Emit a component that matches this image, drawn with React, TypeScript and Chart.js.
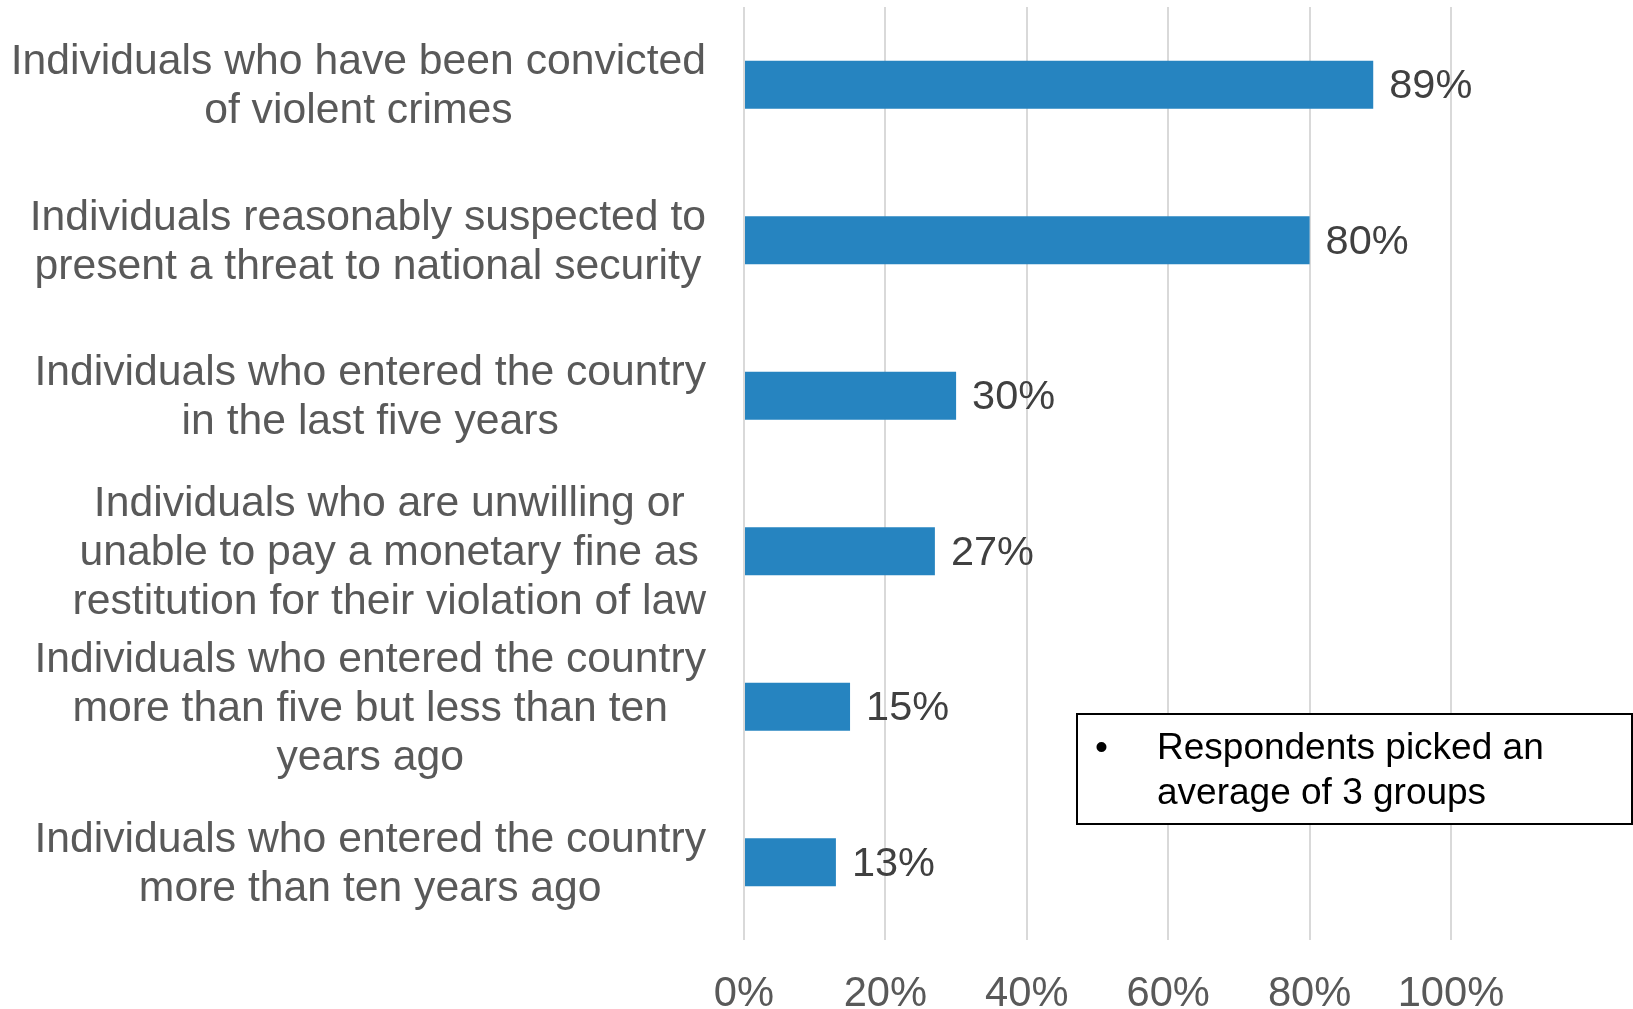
import React, { useEffect, useRef } from "react";
import { Chart, registerables } from "chart.js";

Chart.register(...registerables);

const categories: string[][] = [
  ["Individuals who have been convicted", "of violent crimes"],
  ["Individuals reasonably suspected to", "present a threat to national security"],
  ["Individuals who entered the country", "in the last five years"],
  ["Individuals who are unwilling or", "unable to pay a monetary fine as", "restitution for their violation of law"],
  ["Individuals who entered the country", "more than five but less than ten", "years ago"],
  ["Individuals who entered the country", "more than ten years ago"],
];
const values: number[] = [89, 80, 30, 27, 15, 13];
const xTicks: number[] = [0, 20, 40, 60, 80, 100];
const noteLines: string[] = ["Respondents picked an", "average of 3 groups"];

const FONT = "'Liberation Sans', Arial, sans-serif";

const labelPlugin = {
  id: "customLabels",
  afterDatasetsDraw(chart: any) {
    const ctx = chart.ctx;
    const yScale = chart.scales.y;
    const meta = chart.getDatasetMeta(0);
    ctx.save();
    // data labels
    ctx.font = `41.5px ${FONT}`;
    ctx.fillStyle = "#404040";
    ctx.textAlign = "left";
    ctx.textBaseline = "middle";
    meta.data.forEach((bar: any, i: number) => {
      ctx.fillText(values[i] + "%", bar.x + 16, bar.y + 2);
    });
    // category labels: block right-aligned, lines centered
    ctx.font = `42.7px ${FONT}`;
    ctx.fillStyle = "#595959";
    ctx.textAlign = "center";
    const lineH = 49;
    const rightEdge = yScale.right - 38;
    categories.forEach((lines, i) => {
      const cy = yScale.getPixelForTick(i) + 2;
      const widest = Math.max(...lines.map((l) => ctx.measureText(l).width));
      const cx = rightEdge - widest / 2;
      const startY = cy - ((lines.length - 1) * lineH) / 2;
      lines.forEach((l, j) => {
        ctx.fillText(l, cx, startY + j * lineH);
      });
    });
    // note box
    const bx = 1077, by = 714, bw = 555, bh = 110;
    ctx.fillStyle = "#ffffff";
    ctx.fillRect(bx, by, bw, bh);
    ctx.strokeStyle = "#000000";
    ctx.lineWidth = 2;
    ctx.strokeRect(bx, by, bw, bh);
    ctx.fillStyle = "#000000";
    ctx.font = `37px ${FONT}`;
    ctx.textAlign = "left";
    ctx.fillText("•", 1095, 749);
    noteLines.forEach((l, j) => {
      ctx.fillText(l, 1157, 749 + j * 45);
    });
    ctx.restore();
  },
};

export default function App() {
  const ref = useRef<HTMLCanvasElement | null>(null);
  useEffect(() => {
    if (!ref.current) return;
    const chart = new Chart(ref.current, {
      type: "bar",
      data: {
        labels: categories.map((c) => c.join(" ")),
        datasets: [
          {
            data: values,
            backgroundColor: "#2684C0",
            borderWidth: 0,
            barPercentage: 0.62,
            categoryPercentage: 0.5,
          },
        ],
      },
      options: {
        indexAxis: "y",
        animation: false,
        responsive: false,
        maintainAspectRatio: false,
        layout: { padding: { top: 7, right: 182, left: 0, bottom: 0 } },
        plugins: { legend: { display: false }, tooltip: { enabled: false } },
        scales: {
          x: {
            min: 0,
            max: 100,
            afterBuildTicks: (scale: any) => {
              scale.ticks = xTicks.map((v) => ({ value: v }));
            },
            afterFit: (scale: any) => {
              scale.height = 69;
            },
            grid: { color: "#D9D9D9", lineWidth: 2, drawTicks: false, tickLength: 0 },
            border: { display: false },
            ticks: {
              padding: 29,
              color: "#595959",
              font: { size: 41.7, family: FONT },
              callback: (v: any) => v + "%",
              maxRotation: 0,
            },
          },
          y: {
            afterFit: (scale: any) => {
              scale.width = 744;
            },
            grid: { display: false },
            border: { display: false },
            ticks: { display: false },
          },
        },
      },
      plugins: [labelPlugin],
    });
    return () => chart.destroy();
  }, []);
  return (
    <div style={{ position: "fixed", left: 0, top: 0, width: 1633, height: 1009, background: "#fff" }}>
      <canvas ref={ref} width={1633} height={1009} style={{ width: 1633, height: 1009 }} />
    </div>
  );
}
